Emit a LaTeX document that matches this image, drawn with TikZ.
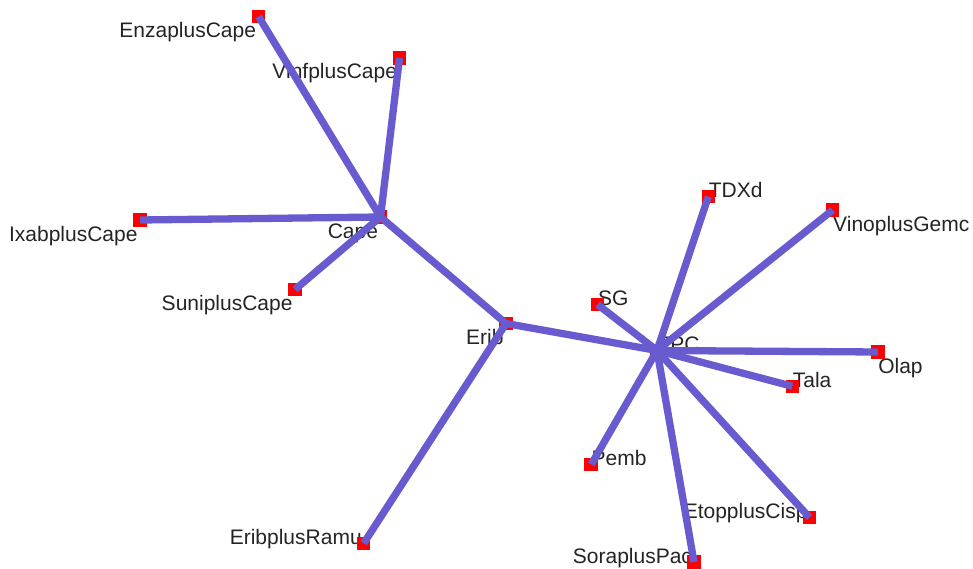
\documentclass[tikz,border=0pt]{standalone}
\usepackage{fontspec}
\setmainfont{Liberation Sans}
\definecolor{edgeblue}{RGB}{104,90,207}
\definecolor{labelgray}{RGB}{36,36,36}
\tikzset{
  vertex/.style={fill=red, draw=none, minimum size=13.5pt, inner sep=0pt, outer sep=0pt},
  link/.style={draw=edgeblue, line width=7.3pt},
  lbl/.style={inner sep=0pt, outer sep=0pt, text=labelgray, font=\fontsize{21}{25}\selectfont},
  lblBL/.style={lbl, anchor=base east, xshift=-2.5pt, yshift=-21pt},
  lblBR/.style={lbl, anchor=base west, xshift=0.5pt, yshift=-21.3pt},
  lblAR/.style={lbl, anchor=base west, xshift=0.5pt, yshift=-1pt},
  lblAL/.style={lbl, anchor=base east, xshift=-2pt, yshift=-1pt},
}
\begin{document}
\begin{tikzpicture}[x=1pt, y=-1pt]
\useasboundingbox (0,0) rectangle (973,569);
% vertex positions
\coordinate (enza) at (258.5,16.5);
\coordinate (vinf) at (399.5,58);
\coordinate (cape) at (380.5,217);
\coordinate (ixab) at (140,220);
\coordinate (suni) at (295,289.5);
\coordinate (erib) at (506,323.5);
\coordinate (sg)   at (597.5,304.5);
\coordinate (tpc)  at (657,350.5);
\coordinate (tdxd) at (708.3,196.7);
\coordinate (vino) at (832.7,210);
\coordinate (olap) at (877.8,352);
\coordinate (tala) at (792.3,386.3);
\coordinate (pemb) at (591.2,464.5);
\coordinate (etop) at (809.5,517.5);
\coordinate (sora) at (694,562);
\coordinate (ramu) at (363.7,543.3);
% labels (drawn first, so squares and links sit on top)
\node[lblBL] (enza-l) at (enza) {EnzaplusCape};
\node[lblBL] (vinf-l) at (vinf) {VinfplusCape};
\node[lblBL] (cape-l) at (cape) {Cape};
\node[lblBL] (ixab-l) at (ixab) {IxabplusCape};
\node[lblBL] (suni-l) at (suni) {SuniplusCape};
\node[lblBL] (erib-l) at (erib) {Erib};
\node[lblBR] (vino-l) at (vino) {VinoplusGemc};
\node[lblBR] (olap-l) at (olap) {Olap};
\node[lblAR] (sg-l)   at (sg)   {SG};
\node[lblAR] (tdxd-l) at (tdxd) {TDXd};
\node[lblAR] (tala-l) at (tala) {Tala};
\node[lblAR] (pemb-l) at (pemb) {Pemb};
\node[lblAR] (tpc-l)  at (tpc)  {TPC};
\node[lblAL] (ramu-l) at (ramu) {EribplusRamu};
\node[lblAL] (sora-l) at (sora) {SoraplusPac};
\node[lblAL] (etop-l) at (etop) {EtopplusCisp};
% vertices
\foreach \v in {enza,vinf,cape,ixab,suni,erib,sg,tpc,tdxd,vino,olap,tala,pemb,etop,sora,ramu}
  \node[vertex] (\v-v) at (\v) {};
% links
\foreach \a/\b in {cape/enza, cape/vinf, cape/ixab, cape/suni, cape/erib,
                   erib/ramu, erib/tpc,
                   tpc/sg, tpc/tdxd, tpc/vino, tpc/olap, tpc/tala,
                   tpc/pemb, tpc/etop, tpc/sora}
  \draw[link] (\a-v.center) -- (\b-v.center);
\end{tikzpicture}
\end{document}
